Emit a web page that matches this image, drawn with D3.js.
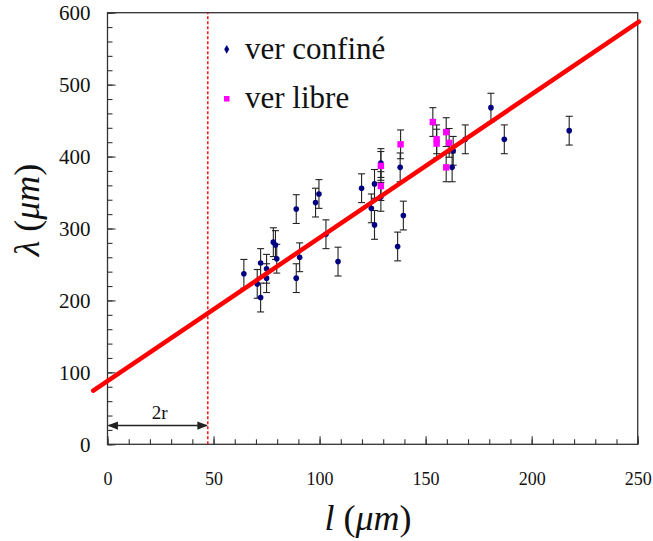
<!DOCTYPE html>
<html><head><meta charset="utf-8">
<script src="https://cdn.jsdelivr.net/npm/d3@7"></script>
<style>
html,body{margin:0;padding:0;background:#fff;}
svg{display:block;}
svg text{font-family:"Times New Roman","Liberation Serif",Tinos,"DejaVu Serif",serif !important;fill:#111;}
</style></head>
<body>
<svg id="chart" width="653" height="541"></svg>
<script>
// ---- data ----
const confineL = [64.3,70.6,72.2,72.2,75,75,78.2,79.2,79.8,89,89,90.6,98.1,99.7,103,108.7,119.8,124.4,125.9,125.9,128.9,128.9,136.8,138,139.5,162.5,163,168.7,180.8,187.1,217.7];
const confineLambda = [237,223,252,204,244,231,281,277,258,327,231,260,336,348,292,254,356,328,305,362,391,344,275,385,318,385,408,424,468,424,436];
const confineErr = [20,20,20,20,20,20,20,20,20,20,20,20,20,20,20,20,20,20,20,20,20,20,20,20,20,20,20,20,20,20,20];
const libreL = [128.9,128.9,138.2,153.4,155.2,155.2,159.7,161.1,159.7];
const libreLambda = [387,359,417,448,424,418,434,419,385];
const libreErr = [20,20,20,20,20,20,20,20,20];
const fitL = [-6.7,250.6];
const fitLambda = [74.5,587.5];
const cutoffL = 47.3;
const xMajorTicks = [0,50,100,150,200,250];
const xMinorTicks = d3.range(0,251,10);
const yMajorTicks = [0,100,200,300,400,500,600];
const yMinorTicks = d3.range(0,601,20);
const legendLabels = ["ver confiné","ver libre"];

// ---- layout ----
const FONT = '"Times New Roman","Liberation Serif",Tinos,"DejaVu Serif",serif';
const svg = d3.select("#chart");
const x = d3.scaleLinear().domain([0,250]).range([107.5,637.7]);
const y = d3.scaleLinear().domain([0,600]).range([444.3,12.7]);
const axisColor = "#333";

// axes
const gx = svg.append("g").attr("transform",`translate(0,${y(0)})`);
gx.call(d3.axisBottom(x).tickValues(xMinorTicks).tickSize(-5).tickFormat(""));
const gxM = svg.append("g").attr("transform",`translate(0,${y(0)})`);
gxM.call(d3.axisBottom(x).tickValues(xMajorTicks).tickSize(-8).tickPadding(28).tickFormat(d3.format("d")));
const gy = svg.append("g").attr("transform",`translate(${x(0)},0)`);
gy.call(d3.axisLeft(y).tickValues(yMinorTicks).tickSize(-5).tickFormat(""));
const gyM = svg.append("g").attr("transform",`translate(${x(0)},0)`);
gyM.call(d3.axisLeft(y).tickValues(yMajorTicks).tickSize(-8).tickPadding(17).tickFormat(d3.format("d")));
svg.selectAll(".domain").remove();
svg.selectAll("g").attr("font-family",FONT);
svg.selectAll(".tick line").attr("stroke",axisColor).attr("stroke-width",1.1);
gxM.selectAll("text").attr("font-size",18).attr("fill","#111");
gyM.selectAll("text").attr("font-size",21).attr("fill","#111");

// frame
svg.append("rect").attr("x",x(0)).attr("y",y(600)).attr("width",x(250)-x(0)).attr("height",y(0)-y(600))
  .attr("fill","none").attr("stroke",axisColor).attr("stroke-width",1.3);

// cutoff dashed line
svg.append("line").attr("x1",x(cutoffL)).attr("x2",x(cutoffL)).attr("y1",y(0)).attr("y2",y(600))
  .attr("stroke","#ff0000").attr("stroke-width",1.4).attr("stroke-dasharray","3,2");

// 2r arrow
const defs = svg.append("defs");
defs.append("marker").attr("id","ah").attr("viewBox","0 0 10 10").attr("refX",9).attr("refY",5)
  .attr("markerWidth",7).attr("markerHeight",7).attr("orient","auto-start-reverse")
  .append("path").attr("d","M0,1 L10,5 L0,9 z").attr("fill","#222");
svg.append("line").attr("x1",x(0)+1).attr("x2",x(cutoffL)-1).attr("y1",y(26)).attr("y2",y(26))
  .attr("stroke","#222").attr("stroke-width",1.5)
  .attr("marker-start","url(#ah)").attr("marker-end","url(#ah)");
svg.append("text").attr("x",(x(0)+x(cutoffL))/2+2).attr("y",419).attr("text-anchor","middle")
  .attr("font-size",19).attr("font-family",FONT).text("2r");

// error bars
function errBars(L, V, E){
  const g = svg.append("g").attr("stroke","#222").attr("stroke-width",1.1);
  L.forEach((l,i)=>{
    const cx = x(l);
    g.append("line").attr("x1",cx).attr("x2",cx).attr("y1",y(V[i]-E[i])).attr("y2",y(V[i]+E[i]));
    g.append("line").attr("x1",cx-3.5).attr("x2",cx+3.5).attr("y1",y(V[i]-E[i])).attr("y2",y(V[i]-E[i]));
    g.append("line").attr("x1",cx-3.5).attr("x2",cx+3.5).attr("y1",y(V[i]+E[i])).attr("y2",y(V[i]+E[i]));
  });
}
errBars(confineL, confineLambda, confineErr);
errBars(libreL, libreLambda, libreErr);

// points
svg.append("g").selectAll("circle").data(confineL).join("circle")
  .attr("cx",d=>x(d)).attr("cy",(d,i)=>y(confineLambda[i])).attr("r",2.8).attr("fill","#000080");
svg.append("g").selectAll("rect").data(libreL).join("rect")
  .attr("x",d=>x(d)-3.2).attr("y",(d,i)=>y(libreLambda[i])-3.2).attr("width",6.4).attr("height",6.4).attr("fill","#ff00ff");

// fit line
svg.append("path").datum(fitL.map((l,i)=>[l,fitLambda[i]]))
  .attr("d",d3.line().x(d=>x(d[0])).y(d=>y(d[1])))
  .attr("stroke","#ff0000").attr("stroke-width",4.5).attr("stroke-linecap","round").attr("fill","none");

// legend
svg.append("path").attr("d",d3.symbol(d3.symbolDiamond,22)()).attr("transform","translate(226.7,49.3)").attr("fill","#000080");
svg.append("rect").attr("x",224).attr("y",96).attr("width",5.5).attr("height",5.5).attr("fill","#ff00ff");
svg.append("text").attr("x",245).attr("y",59).attr("font-size",31).attr("font-family",FONT).text(legendLabels[0]);
svg.append("text").attr("x",245).attr("y",108).attr("font-size",31).attr("font-family",FONT).text(legendLabels[1]);

// axis titles
const xt = svg.append("text").attr("x",368).attr("y",530).attr("text-anchor","middle").attr("font-size",36).attr("font-family",FONT);
xt.append("tspan").attr("font-style","italic").text("l");
xt.append("tspan").text(" (");
xt.append("tspan").attr("font-style","italic").text("μm");
xt.append("tspan").text(")");
const yt = svg.append("text").attr("transform","translate(39,210) rotate(-90)").attr("text-anchor","middle").attr("font-size",36).attr("font-family",FONT);
yt.append("tspan").attr("font-style","italic").text("λ");
yt.append("tspan").text(" (");
yt.append("tspan").attr("font-style","italic").text("μm");
yt.append("tspan").text(")");
</script>
</body></html>
